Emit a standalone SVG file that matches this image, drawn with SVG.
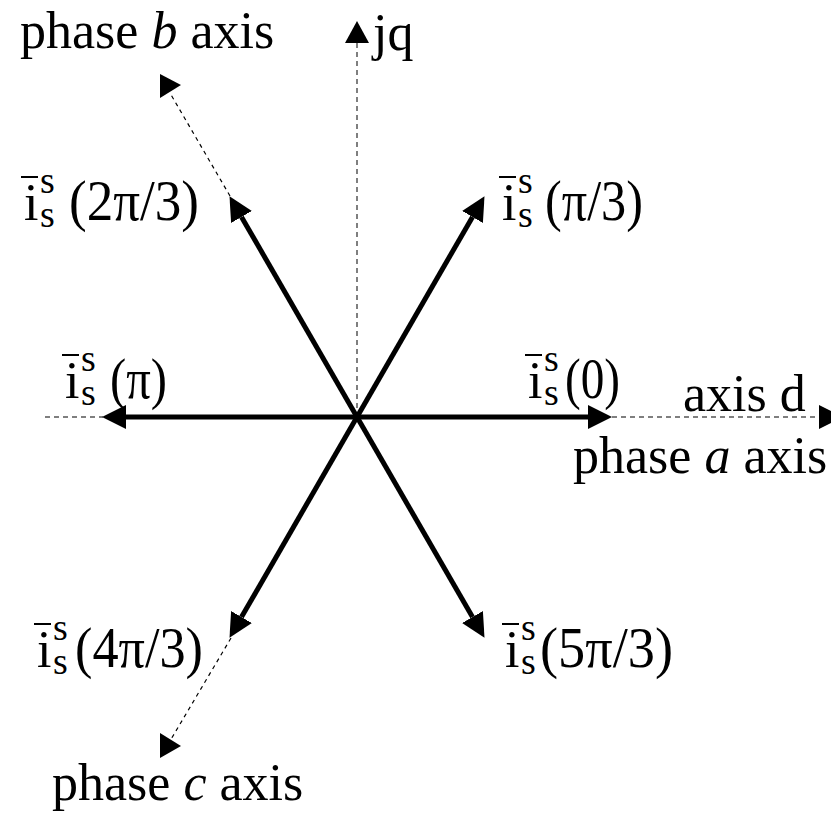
<svg xmlns="http://www.w3.org/2000/svg" width="831" height="816" viewBox="0 0 831 816">
<style>
  .axis { font-family: "Liberation Serif", "Times New Roman", serif; font-size: 52px; fill: #000; }
  .lbl { font-family: "Liberation Serif", "Times New Roman", serif; font-size: 52px; fill: #000; }
  .ss { font-size: 38px; }
  .par { font-size: 56px; }
  .bar { stroke: #000; stroke-width: 2; }
  .vec { stroke: #000; stroke-width: 5; fill: none; marker-end: url(#ah); }
  .dash { stroke: #555; stroke-width: 1.5; stroke-dasharray: 5 4; fill: none; }
  .dash2 { stroke: #000; stroke-width: 1.2; stroke-dasharray: 4 4; fill: none; }
  .head { fill: #000; }
</style>
<defs>
  <marker id="ah" viewBox="0 0 24 24" markerWidth="24" markerHeight="24" refX="0" refY="12" orient="auto" markerUnits="userSpaceOnUse">
    <path d="M0,0 L24,12 L0,24 z" fill="#000"/>
  </marker>
</defs>
<g id="connectors">
  <line class="dash" x1="357" y1="417" x2="357" y2="43"/>
  <polygon class="head" points="345,43 369,43 357,21"/>
  <line class="dash" x1="45" y1="417" x2="103" y2="417"/>
  <line class="dash" x1="612" y1="417" x2="819" y2="417"/>
  <polygon class="head" points="819,405 819,429 843,417"/>
  <line class="dash2" x1="230" y1="196" x2="170" y2="93"/>
  <polygon class="head" points="160,74 181,85 160,98"/>
  <line class="dash2" x1="231" y1="638" x2="170" y2="741"/>
  <polygon class="head" points="160,733 181,746 160,758"/>
  <line class="vec" x1="357" y1="417" x2="588" y2="417"/>
  <line class="vec" x1="357" y1="417" x2="472.5" y2="216.95"/>
  <line class="vec" x1="357" y1="417" x2="241.5" y2="216.95"/>
  <line class="vec" x1="357" y1="417" x2="126" y2="417"/>
  <line class="vec" x1="357" y1="417" x2="241.5" y2="617.05"/>
  <line class="vec" x1="357" y1="417" x2="472.5" y2="617.05"/>
</g>
<g id="axis-jq"><text class="axis" x="373" y="50">jq</text></g>
<g id="axis-b"><text class="axis" x="20" y="48">phase <tspan font-style="italic">b</tspan> axis</text></g>
<g id="axis-d"><text class="axis" x="683" y="411">axis d</text></g>
<g id="axis-a"><text class="axis" x="573" y="473">phase <tspan font-style="italic">a</tspan> axis</text></g>
<g id="axis-c"><text class="axis" x="52" y="800">phase <tspan font-style="italic">c</tspan> axis</text></g>

<g id="label-0" transform="translate(528,398)">
  <line class="bar" x1="-3" y1="-43" x2="14" y2="-43"/>
  <text class="lbl" x="0" y="0">i<tspan class="ss" x="16" dy="-27">s</tspan><tspan class="ss" x="16" dy="34">s</tspan><tspan class="par" x="37" dy="-7" textLength="55" lengthAdjust="spacingAndGlyphs">(0)</tspan></text>
</g>
<g id="label-pi3" transform="translate(502,220)">
  <line class="bar" x1="-3" y1="-43" x2="14" y2="-43"/>
  <text class="lbl" x="0" y="0">i<tspan class="ss" x="16" dy="-27">s</tspan><tspan class="ss" x="16" dy="34">s</tspan><tspan class="par" x="43" dy="-7" textLength="98" lengthAdjust="spacingAndGlyphs">(π/3)</tspan></text>
</g>
<g id="label-2pi3" transform="translate(24,220)">
  <line class="bar" x1="-3" y1="-43" x2="14" y2="-43"/>
  <text class="lbl" x="0" y="0">i<tspan class="ss" x="16" dy="-27">s</tspan><tspan class="ss" x="16" dy="34">s</tspan><tspan class="par" x="45" dy="-7" textLength="130" lengthAdjust="spacingAndGlyphs">(2π/3)</tspan></text>
</g>
<g id="label-pi" transform="translate(65,398)">
  <line class="bar" x1="-3" y1="-43" x2="14" y2="-43"/>
  <text class="lbl" x="0" y="0">i<tspan class="ss" x="16" dy="-27">s</tspan><tspan class="ss" x="16" dy="34">s</tspan><tspan class="par" x="45" dy="-7" textLength="57" lengthAdjust="spacingAndGlyphs">(π)</tspan></text>
</g>
<g id="label-4pi3" transform="translate(37,667)">
  <line class="bar" x1="-3" y1="-43" x2="14" y2="-43"/>
  <text class="lbl" x="0" y="0">i<tspan class="ss" x="16" dy="-27">s</tspan><tspan class="ss" x="16" dy="34">s</tspan><tspan class="par" x="38" dy="-7" textLength="128" lengthAdjust="spacingAndGlyphs">(4π/3)</tspan></text>
</g>
<g id="label-5pi3" transform="translate(505,667)">
  <line class="bar" x1="-3" y1="-43" x2="14" y2="-43"/>
  <text class="lbl" x="0" y="0">i<tspan class="ss" x="16" dy="-27">s</tspan><tspan class="ss" x="16" dy="34">s</tspan><tspan class="par" x="35" dy="-7" textLength="133" lengthAdjust="spacingAndGlyphs">(5π/3)</tspan></text>
</g>
</svg>
